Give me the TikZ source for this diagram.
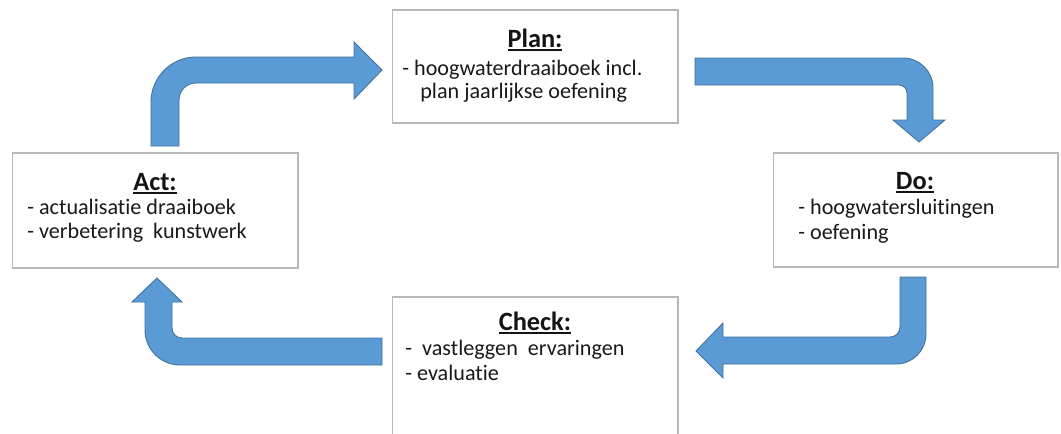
\documentclass[tikz,border=0pt]{standalone}
\usepackage{fontspec}
\setmainfont{Carlito}[Ligatures={NoCommon}]
\definecolor{pijlblauw}{HTML}{5B9BD5}
\definecolor{pijlrand}{HTML}{41719C}
\newcommand{\onderstreep}[1]{\leavevmode\rlap{\rule[-2.2pt]{\widthof{#1}}{1pt}}#1}
\usepackage{calc}
\tikzset{
	fase/.style={draw=black!28, line width=0.6pt, fill=white, inner sep=0pt, minimum width=5.72cm},
	kop/.style={anchor=base, inner sep=0pt, text=black!92, font=\fontsize{15}{18}\selectfont\bfseries},
	regel/.style={anchor=base west, inner sep=0pt, text=black!90, font=\fontsize{12.6}{15}\selectfont},
	pijl/.style={fill=pijlblauw, draw=pijlrand, line width=0.5pt, line join=miter}
}
\begin{document}
\begin{tikzpicture}[x=0.02cm, y=-0.02cm]
	\clip (0,0) rectangle (1061,433);
	\fill[white] (0,0) rectangle (1061,433);
	% vakken
	\node[fase, minimum height=2.26cm] (plan) at (535,66.5) {};
	\node[fase, minimum height=2.30cm] (act) at (155,210.5) {};
	\node[fase, minimum height=2.28cm, minimum width=5.70cm] (do) at (915.5,210) {};
	\node[fase, minimum height=3.00cm] (check) at (535,372) {};
	% teksten
	\node[kop] (plankop) at (535,47) {\onderstreep{Plan:}};
	\node[regel] (plan1) at (402,75) {- hoogwaterdraaiboek incl.};
	\node[regel] (plan2) at (420,98) {plan jaarlijkse oefening};
	\node[kop] (dokop) at (915,189) {\onderstreep{Do:}};
	\node[regel] (do1) at (798,214) {- hoogwatersluitingen};
	\node[regel] (do2) at (798,239) {- oefening};
	\node[kop] (checkkop) at (535,330) {\onderstreep{Check:}};
	\node[regel] (check1) at (405,355) {-\ \ vastleggen\ \ ervaringen};
	\node[regel] (check2) at (405,380) {- evaluatie};
	\node[kop] (actkop) at (155,190) {\onderstreep{Act:}};
	\node[regel] (act1) at (27,214) {- actualisatie draaiboek};
	\node[regel] (act2) at (27,238) {- verbetering\ \ kunstwerk};
	% pijlen
	\draw[pijl] (151,146) -- (151,102) .. controls (151,77.2) and (171.2,57) .. (196,57)
		-- (354,57) -- (354,42) -- (382,70) -- (354,99) -- (354,83) -- (196,83)
		.. controls (186.6,83) and (179,90.6) .. (179,100) -- (179,146) -- cycle;
	\draw[pijl] (695,58) -- (903,58) .. controls (919.6,58) and (933,71.4) .. (933,88)
		-- (933,120) -- (945,120) -- (919,142) -- (893,120) -- (907,120) -- (907,93)
		.. controls (907,88.6) and (903.4,85) .. (899,85) -- (695,85) -- cycle;
	\draw[pijl] (900,277) -- (926,277) -- (926,334) .. controls (926,350.6) and (912.6,364) .. (896,364)
		-- (723,364) -- (723,378) -- (696,351) -- (723,323) -- (723,337) -- (890,337)
		.. controls (895.5,337) and (900,332.5) .. (900,327) -- cycle;
	\draw[pijl] (382,338) -- (182,338) .. controls (176.5,338) and (172,333.5) .. (172,328)
		-- (172,302) -- (182,302) -- (157,278) -- (132,302) -- (145,302) -- (145,330)
		.. controls (145,349.3) and (160.7,365) .. (180,365) -- (382,365) -- cycle;
\end{tikzpicture}
\end{document}
